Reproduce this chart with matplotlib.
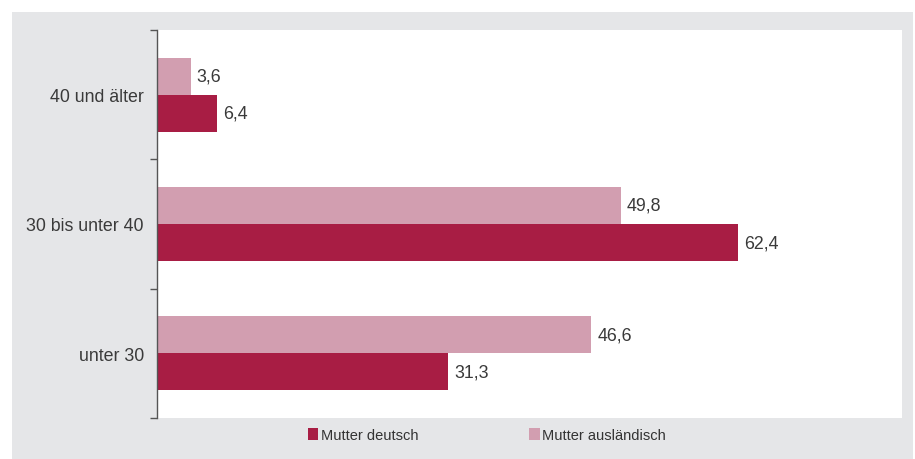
import matplotlib
matplotlib.use("agg")
import matplotlib.pyplot as plt
from matplotlib.patches import Rectangle, Patch
import numpy as np

# data (bottom to top)
categories = ["unter 30", "30 bis unter 40", "40 und älter"]
mutter_deutsch = [31.3, 62.4, 6.4]
mutter_auslaendisch = [46.6, 49.8, 3.6]
series_names = ["Mutter deutsch", "Mutter ausländisch"]

c_dark = "#a81d44"
c_pink = "#d29eb0"
c_bg = "#e5e6e8"
c_text = "#333333"

plt.rcParams['font.family'] = ['Liberation Sans', 'DejaVu Sans']

fig = plt.figure(figsize=(9.15, 4.6), dpi=100)
fig.patch.set_facecolor("white")
frame = Rectangle((12/915, 0), 901/915, 447/460, transform=fig.transFigure,
                  facecolor=c_bg, edgecolor="none", zorder=-10)
fig.add_artist(frame)

ax = fig.add_axes([157/915, 41/460, 745/915, 388/460])
ax.set_zorder(1)
ax.set_facecolor("white")

y = np.arange(len(categories))
h = 0.287
b1 = ax.barh(y - h/2, mutter_deutsch, height=h, color=c_dark)
b2 = ax.barh(y + h/2, mutter_auslaendisch, height=h, color=c_pink)

for bars, vals in ((b1, mutter_deutsch), (b2, mutter_auslaendisch)):
	for bar, v in zip(bars, vals):
		ax.annotate(f"{v:.1f}".replace(".", ","),
			xy=(bar.get_width(), bar.get_y() + bar.get_height()/2),
			xytext=(4.5, 0), textcoords="offset points",
			va="center", ha="left", fontsize=12.8, color="#3a3a3a")

ax.set_xlim(0, 80)
ax.set_ylim(-0.5, len(categories) - 0.5)
ax.set_xticks([])
ax.set_yticks(y)
ax.set_yticklabels(categories, fontsize=12.8, color="#3a3a3a")
ax.tick_params(axis="y", which="major", length=0, pad=9.5)
ax.set_yticks(np.arange(-0.5, len(categories)), minor=True)
ax.tick_params(axis="y", which="minor", length=5, color="#555555", width=1)

for s in ("top", "right", "bottom"):
	ax.spines[s].set_visible(False)
ax.spines["left"].set_color("#555555")
ax.spines["left"].set_linewidth(1)

handles = [Patch(facecolor=c_dark), Patch(facecolor=c_pink)]
leg = fig.legend(handles, series_names, loc="center", bbox_to_anchor=(487/915, 24/460),
	ncol=2, frameon=False, handlelength=0.7, handleheight=0.8,
	handletextpad=0.2, columnspacing=7.6, labelcolor=c_text, fontsize=10.5)

fig.savefig("out.png", dpi=100, facecolor=fig.get_facecolor())
